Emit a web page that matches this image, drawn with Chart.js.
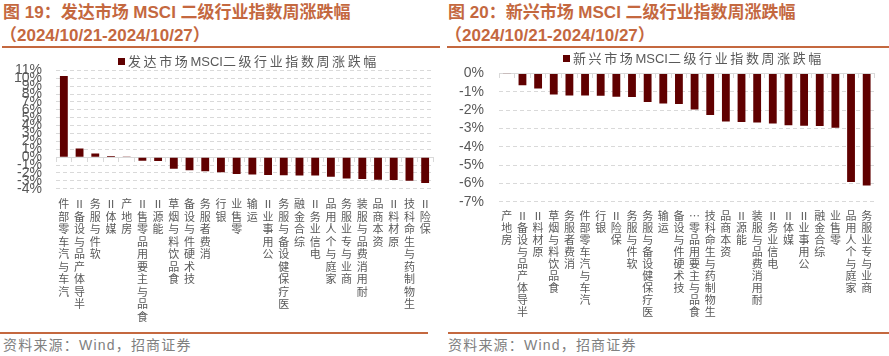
<!DOCTYPE html>
<html><head><meta charset="utf-8">
<script src="https://cdn.jsdelivr.net/npm/chart.js@4.4.0/dist/chart.umd.min.js"></script>
<style>
html,body{margin:0;padding:0;background:#fff;}
body{width:889px;height:356px;overflow:hidden;position:relative;font-family:"Liberation Sans","Noto Sans CJK SC",sans-serif;}
.t{position:absolute;color:#C4683F;font-weight:bold;font-size:17px;white-space:nowrap;line-height:20px;}
.rule{position:absolute;height:2px;background:#C4683F;}
.src{position:absolute;color:#808080;font-size:14px;white-space:nowrap;line-height:16px;letter-spacing:1.2px;font-family:"Liberation Sans Narrow","Liberation Sans","Noto Sans CJK SC",sans-serif;}
canvas{position:absolute;}
.lg{position:absolute;background:#fff;height:14px;padding:0 4px;white-space:nowrap;}
.lg i{position:absolute;width:7px;height:7px;}
.lg span{position:absolute;color:#595959;font-size:13px;letter-spacing:2.6px;line-height:14px;font-family:"Liberation Sans","Noto Sans CJK SC",sans-serif;}
.lg span b{font-weight:normal;letter-spacing:0;}
</style>
</head>
<body>
<div class="t" style="left:3px;top:3px;">图 19：发达市场 MSCI 二级行业指数周涨跌幅</div>
<div class="t" style="left:0px;top:26px;">（2024/10/21-2024/10/27）</div>
<div class="t" style="left:448px;top:3px;">图 20：新兴市场 MSCI 二级行业指数周涨跌幅</div>
<div class="t" style="left:445px;top:26px;">（2024/10/21-2024/10/27）</div>
<div class="rule" style="left:2px;top:46px;width:438px;"></div>
<div class="rule" style="left:447px;top:46px;width:442px;"></div>
<canvas id="c1" width="440" height="284" style="left:0;top:48px;"></canvas>
<canvas id="c2" width="444" height="284" style="left:445px;top:48px;"></canvas>
<div class="lg" id="lg1" style="left:112px;top:55px;width:270px;"></div>
<div class="lg" id="lg2" style="left:557px;top:52px;width:270px;"></div>
<div class="rule" style="left:0px;top:332px;width:428px;"></div>
<div class="rule" style="left:448px;top:332px;width:441px;"></div>
<div class="src" style="left:3px;top:337px;">资料来源：Wind，招商证券</div>
<div class="src" style="left:448px;top:337px;">资料来源：Wind，招商证券</div>
<script>
// ---- Data ----
const seriesDM = '发达市场MSCI二级行业指数周涨跌幅';
const categoriesDM = ['汽车与汽车零部件','半导体产品与设备Ⅱ','软件与服务','媒体Ⅱ','房地产','食品与主要用品零售Ⅱ','能源Ⅱ','食品饮料与烟草','技术硬件与设备','消费者服务','银行','零售业','运输','公用事业Ⅱ','医疗保健设备与服务','综合金融','电信业务Ⅱ','家庭与个人用品','商业与专业服务','耐用消费品与服装','资本商品','原材料Ⅱ','生物制药与生命科技','保险Ⅱ'];
const valuesDM = [10.3, 1.1, 0.45, 0.15, 0.03, -0.45, -0.5, -1.47, -1.65, -1.8, -1.92, -2.14, -2.2, -2.25, -2.3, -2.33, -2.33, -2.48, -2.7, -2.78, -2.88, -2.9, -3.0, -3.27];
const yTicksDM = {min: -4, max: 11, step: 1};

const seriesEM = '新兴市场MSCI二级行业指数周涨跌幅';
const categoriesEM = ['房地产','半导体产品与设备Ⅱ','原材料Ⅱ','食品饮料与烟草','消费者服务','汽车与汽车零部件','银行','保险Ⅱ','软件与服务','医疗保健设备与服务','运输','技术硬件与设备','食品与主要用品零…','生物制药与生命科技','资本商品','能源Ⅱ','耐用消费品与服装','电信业务Ⅱ','媒体Ⅱ','公用事业Ⅱ','综合金融','零售业','家庭与个人用品','商业与专业服务'];
const valuesEM = [-0.02, -0.64, -0.82, -1.15, -1.2, -1.2, -1.21, -1.27, -1.28, -1.56, -1.64, -1.67, -1.96, -2.27, -2.62, -2.65, -2.67, -2.73, -2.82, -2.85, -2.86, -2.96, -5.93, -6.11];
const yTicksEM = {min: -7, max: 0, step: 1};

const BAR = '#600000';
const GRID = '#D9D9D9';

function makeChart(id, cats, vals, label, yt, cfg) {
  return new Chart(document.getElementById(id), {
    type: 'bar',
    data: {
      labels: cats,
      datasets: [{label: label, data: vals, backgroundColor: BAR, barPercentage: 0.5, categoryPercentage: 1, xAxisID: 'x', yAxisID: 'y'}]
    },
    options: {
      responsive: false, animation: false, devicePixelRatio: 1,
      layout: {padding: {top: cfg.padTop, right: cfg.padRight, left: 0, bottom: 0}},
      plugins: {legend: {display: false}, tooltip: {enabled: false}},
      scales: {
        x: {
          type: 'category', position: {y: 0}, offset: true,
          grid: {display: true, drawOnChartArea: false, drawTicks: true, tickLength: 4, color: GRID, offset: true},
          border: {display: true, color: GRID, width: 1},
          ticks: {display: false}
        },
        x2: {
          type: 'category', position: 'bottom', offset: true,
          labels: cats.map(c => Array.from(c).reverse()),
          grid: {display: false, drawTicks: false},
          border: {display: false},
          ticks: {autoSkip: false, maxRotation: 0, minRotation: 0, padding: cfg.xPad, color: '#595959',
                  font: {family: '"Noto Sans CJK SC"', size: 11, lineHeight: cfg.lh + 'px'}},
          afterFit: s => { s.height = cfg.xH; }
        },
        y: {
          min: yt.min, max: yt.max,
          ticks: {stepSize: yt.step, autoSkip: false, padding: cfg.yPad, color: '#595959',
                  font: {family: '"Liberation Sans"', size: 14},
                  callback: v => v + '%'},
          grid: {color: GRID, drawTicks: false},
          border: {display: false, dash: [4, 3]},
          afterFit: s => { s.width = cfg.yW; }
        }
      }
    }
  });
}

const c1 = makeChart('c1', categoriesDM, valuesDM, seriesDM, yTicksDM,
  {padTop: 8, padRight: 7, xPad: 9, lh: 12.5, xH: 143.3, yPad: 14, yW: 56});
const c2 = makeChart('c2', categoriesEM, valuesEM, seriesEM, yTicksEM,
  {padTop: 25.5, padRight: 14.5, xPad: 8, lh: 12, xH: 130.3, yPad: 15, yW: 54});

function legend(elId, chart) {
  const ds = chart.data.datasets[0];
  const el = document.getElementById(elId);
  const txt = ds.label.replace(/([A-Za-z]+)/g, '<b>$1</b>');
  el.innerHTML = '<i style="left:6px;top:3px;background:' + ds.backgroundColor + '"></i><span style="left:16px;top:0;">' + txt + '</span>';
}
legend('lg1', c1);
legend('lg2', c2);
</script>
</body></html>
